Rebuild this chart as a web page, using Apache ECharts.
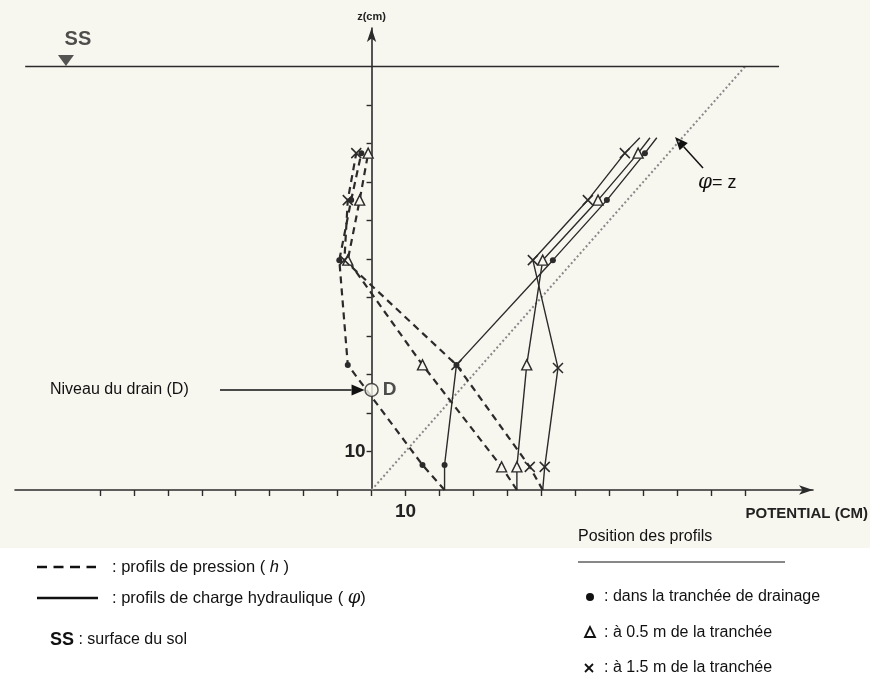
<!DOCTYPE html>
<html lang="fr">
<head>
<meta charset="UTF-8">
<title>Profils de pression et de charge hydraulique</title>
<script src="https://cdn.jsdelivr.net/npm/echarts@6/dist/echarts.min.js"></script>
<style>
  html, body { margin: 0; background: #fff; }
  #main { width: 870px; height: 690px; }
</style>
</head>
<body>
<div id="main"></div>
<script>
// axes: ticks and labels
var potentialTicks = [-80, -70, -60, -50, -40, -30, -20, -10, 0, 10, 20, 30, 40, 50, 60, 70, 80, 90, 100, 110];
var potentialLabels = [10];
var depthTicks = [10, 20, 30, 40, 50, 60, 70, 80, 90, 100];
var depthLabels = [10];
var potentialRange = [-105, 130];
var depthRange = [0, 120];

// soil surface (SS), drain level (D), line phi = z
var surfaceLevel = 110;
var surfaceSpan = [-102, 120];
var surfaceMarkX = -90;
var drainLevel = 26;
var identityLine = [[0, 0], [110, 110]];

// pressure profiles h  [potential, z]
var hDrain = [[21.5, 0], [15, 6.5], [-7, 32.5], [-9.5, 59.7], [-6, 75.3], [-3, 87.5]];
var hHalf  = [[42.8, 0], [38.3, 6], [15, 32.5], [-7, 59.7], [-3.5, 75.3], [-1, 87.5]];
var hFar   = [[50.4, 0], [46.6, 6], [25, 32.5], [-8, 59.7], [-7, 75.3], [-4.5, 87.5]];

// hydraulic head profiles phi  [potential, z]
var phiDrain = [[21.5, 0], [21.5, 6.5], [25, 32.5], [53.4, 59.7], [69.3, 75.3], [80.5, 87.5], [84, 91.5]];
var phiHalf  = [[42.8, 0], [42.8, 6], [45.7, 32.5], [50.4, 59.7], [66.7, 75.3], [78.5, 87.5], [82, 91.5]];
var phiFar   = [[50.4, 0], [51, 6], [54.9, 31.7], [47.5, 59.7], [63.7, 75.3], [74.6, 87.5], [79, 91.5]];

var ink = '#2b2b2b';
var paper = '#f8f7ef';
var font = 'Liberation Sans, Arial, sans-serif';
var crossPath = 'path://M0,0L10,10M10,0L0,10';

var gridLeft = 15, gridRight = 57, W = 870;
// the z axis stands at potential 0, inside the grid
var zAxisOffset = -(0 - potentialRange[0]) * (W - gridLeft - gridRight) / (potentialRange[1] - potentialRange[0]);

function markStyle(sym) {
  if (sym == 'circle') return { color: ink };
  if (sym == 'triangle') return { color: paper, borderColor: ink, borderWidth: 1.4 };
  return { color: 'rgba(0,0,0,0)', borderColor: ink, borderWidth: 1.5 };
}

// first point sits on the axis (no mark); phi lines also run on past the last reading
function profile(pts, sym, dashed, openTop) {
  var last = pts.length - 1;
  return {
    type: 'line',
    data: pts,
    silent: true,
    showAllSymbol: true,
    symbol: function (v, p) {
      if (p.dataIndex == 0 || (openTop && p.dataIndex == last)) return 'none';
      return sym;
    },
    symbolSize: sym == 'circle' ? 6 : 10,
    itemStyle: markStyle(sym),
    lineStyle: dashed ? { color: ink, width: 2.2, type: [7, 5] } : { color: ink, width: 1.4 },
    z: dashed ? 3 : 4
  };
}

var chart = echarts.init(document.getElementById('main'));

var option = {
  backgroundColor: '#ffffff',
  animation: false,
  grid: { left: gridLeft, right: gridRight, top: 28, bottom: 200, outerBoundsMode: 'none' },
  xAxis: {
    type: 'value', min: potentialRange[0], max: potentialRange[1],
    splitLine: { show: false },
    axisLine: { onZero: false, symbol: ['none', 'arrow'], symbolSize: [7, 14], lineStyle: { color: ink, width: 1.6 } },
    axisTick: { customValues: potentialTicks, length: 6, lineStyle: { color: ink, width: 1.4 } },
    axisLabel: { customValues: potentialLabels, margin: 12, color: '#222', fontSize: 19, fontWeight: 'bold', fontFamily: font },
    name: 'POTENTIAL (CM)', nameLocation: 'end', nameGap: 55,
    nameTextStyle: { align: 'right', verticalAlign: 'top', padding: [16, 0, 0, 0], color: '#222', fontSize: 15, fontWeight: 'bold', fontFamily: font }
  },
  yAxis: {
    type: 'value', min: depthRange[0], max: depthRange[1],
    position: 'left', offset: zAxisOffset,
    splitLine: { show: false },
    axisLine: { onZero: false, symbol: ['none', 'arrow'], symbolSize: [7, 14], lineStyle: { color: ink, width: 1.6 } },
    axisTick: { customValues: depthTicks, length: 5, lineStyle: { color: ink, width: 1.4 } },
    axisLabel: { customValues: depthLabels, margin: 6, color: '#222', fontSize: 19, fontWeight: 'bold', fontFamily: font },
    name: 'z(cm)', nameLocation: 'end', nameGap: 6,
    nameTextStyle: { color: '#222', fontSize: 11, fontWeight: 'bold', fontFamily: font }
  },
  series: [
    {
      type: 'line', data: identityLine, symbol: 'none', silent: true, z: 2,
      lineStyle: { color: '#888', width: 2, type: [2, 2.5] }
    },
    {
      type: 'line', symbol: 'none', silent: true, z: 2,
      data: [[surfaceSpan[0], surfaceLevel], [surfaceSpan[1], surfaceLevel]],
      lineStyle: { color: ink, width: 1.6 }
    },
    {
      type: 'scatter', silent: true, data: [[surfaceMarkX, surfaceLevel]],
      symbol: 'triangle', symbolRotate: 180, symbolSize: [16, 11], symbolOffset: [0, -6],
      itemStyle: { color: ink },
      label: { show: true, formatter: 'SS', position: 'top', distance: 6, offset: [12, 0], color: '#222', fontSize: 20, fontWeight: 'bold', fontFamily: font }
    },
    profile(hDrain, 'circle', true, false),
    profile(hHalf, 'triangle', true, false),
    profile(hFar, crossPath, true, false),
    profile(phiDrain, 'circle', false, true),
    profile(phiHalf, 'triangle', false, true),
    profile(phiFar, crossPath, false, true),
    {
      type: 'scatter', silent: true, data: [[0, drainLevel]], z: 6,
      symbol: 'circle', symbolSize: 13,
      itemStyle: { color: paper, borderColor: ink, borderWidth: 1.5 },
      label: { show: true, formatter: 'D', position: 'right', distance: 4, color: '#222', fontSize: 19, fontWeight: 'bold', fontFamily: font }
    }
  ]
};
chart.setOption(option);

// annotations and key, placed around the plotted drain position
var d = chart.convertToPixel({ gridIndex: 0 }, [0, drainLevel]);
var txt = { fill: '#111', fontSize: 16, fontFamily: font };

function arrow(x1, y1, x2, y2) {
  var a = Math.atan2(y2 - y1, x2 - x1), L = 13, Wd = 5.5;
  var bx = x2 - L * Math.cos(a), by = y2 - L * Math.sin(a);
  return [
    { type: 'line', shape: { x1: x1, y1: y1, x2: bx, y2: by }, style: { stroke: '#111', lineWidth: 1.5 } },
    { type: 'polygon', shape: { points: [[x2, y2], [bx - Wd * Math.sin(a), by + Wd * Math.cos(a)], [bx + Wd * Math.sin(a), by - Wd * Math.cos(a)]] }, style: { fill: '#111' } }
  ];
}

var g = [
  { type: 'rect', z: -10, shape: { x: 0, y: 0, width: 870, height: 548 }, style: { fill: paper } },
  { type: 'text', x: 50, y: d[1], style: Object.assign({ text: 'Niveau du drain (D)', verticalAlign: 'middle' }, txt) },
  { type: 'text', x: 698, y: 183, style: {
      text: '{p|φ}{n|= z}', verticalAlign: 'middle',
      rich: { p: { fontSize: 20, fontStyle: 'italic', fontFamily: 'DejaVu Serif, serif', fill: '#111' }, n: { fontSize: 18, fontFamily: font, fill: '#111' } } } },

  // key, left
  { type: 'line', shape: { x1: 37, y1: 567, x2: 96, y2: 567 }, style: { stroke: '#111', lineWidth: 2.5, lineDash: [10, 6.5] } },
  { type: 'text', x: 112, y: 567, style: { text: ': profils de pression ( {i|h} )', verticalAlign: 'middle', fill: '#111', fontSize: 16.5, fontFamily: font,
      rich: { i: { fontStyle: 'italic', fontSize: 16.5, fontFamily: font, fill: '#111' } } } },
  { type: 'line', shape: { x1: 37, y1: 598, x2: 98, y2: 598 }, style: { stroke: '#111', lineWidth: 2.5 } },
  { type: 'text', x: 112, y: 598, style: { text: ': profils de charge hydraulique ( {i|φ})', verticalAlign: 'middle', fill: '#111', fontSize: 16.5, fontFamily: font,
      rich: { i: { fontStyle: 'italic', fontSize: 18, fontFamily: 'DejaVu Serif, serif', fill: '#111' } } } },
  { type: 'text', x: 50, y: 640, style: { text: '{b|SS} : surface du sol', verticalAlign: 'middle', fill: '#111', fontSize: 16, fontFamily: font,
      rich: { b: { fontWeight: 'bold', fontSize: 18, fontFamily: font, fill: '#111' } } } },

  // key, right
  { type: 'text', x: 578, y: 537, style: Object.assign({ text: 'Position des profils', verticalAlign: 'middle' }, txt) },
  { type: 'line', shape: { x1: 578, y1: 562, x2: 785, y2: 562 }, style: { stroke: '#111', lineWidth: 1 } },
  { type: 'circle', shape: { cx: 590, cy: 597, r: 4 }, style: { fill: '#111' } },
  { type: 'text', x: 604, y: 597, style: Object.assign({ text: ': dans la tranchée de drainage', verticalAlign: 'middle' }, txt) },
  { type: 'polygon', shape: { points: [[590, 627], [585, 637], [595, 637]] }, style: { fill: 'none', stroke: '#111', lineWidth: 1.8 } },
  { type: 'text', x: 604, y: 633, style: Object.assign({ text: ': à 0.5 m de la tranchée', verticalAlign: 'middle' }, txt) },
  { type: 'polyline', shape: { points: [[585, 664], [593, 672]] }, style: { stroke: '#111', lineWidth: 1.8 } },
  { type: 'polyline', shape: { points: [[593, 664], [585, 672]] }, style: { stroke: '#111', lineWidth: 1.8 } },
  { type: 'text', x: 604, y: 668, style: Object.assign({ text: ': à 1.5 m de la tranchée', verticalAlign: 'middle' }, txt) }
];
g = g.concat(arrow(220, d[1], d[0] - 7, d[1]));
g = g.concat(arrow(703, 168, 675, 137));
chart.setOption({ graphic: g });
</script>
</body>
</html>
